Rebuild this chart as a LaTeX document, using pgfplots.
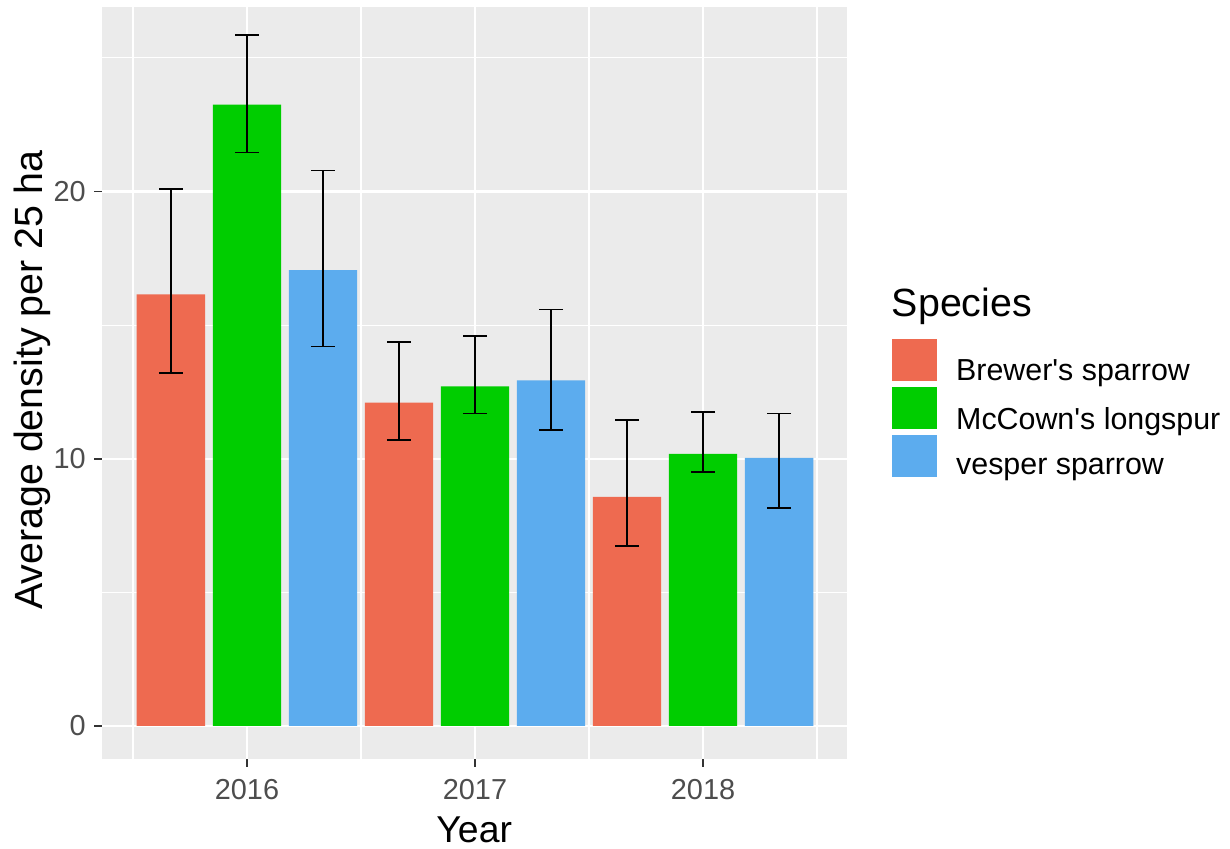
\documentclass[border=0pt]{standalone}
\usepackage{pgfplots}
\pgfplotsset{compat=1.18}
\usepackage{pgfplotstable}
\usepackage{fontspec}
\setmainfont{Liberation Sans}[Ligatures=TeXOff]
\definecolor{panelbg}{HTML}{EBEBEB}
\definecolor{cbrew}{HTML}{EE6A50}
\definecolor{cmcc}{HTML}{00CD00}
\definecolor{cves}{HTML}{5CACEE}
\definecolor{tickc}{HTML}{333333}
\definecolor{labc}{HTML}{4D4D4D}

\pgfdeclareplotmark{capbar}{%
  \pgfsetlinewidth{1.8bp}%
  \pgfsetstrokecolor{black}%
  \pgfpathmoveto{\pgfqpoint{0pt}{-12bp}}%
  \pgfpathlineto{\pgfqpoint{0pt}{12bp}}%
  \pgfusepathqstroke}

\pgfplotstableread{
x y ep em
2015.66667 16.15 3.94 2.93
2016.66667 12.10 2.27 1.41
2017.66667 8.57 2.89 1.85
}\brewer
\pgfplotstableread{
x y ep em
2016 23.25 2.59 1.79
2017 12.71 1.87 1.02
2018 10.18 1.58 0.69
}\mccown
\pgfplotstableread{
x y ep em
2016.33333 17.06 3.72 2.86
2017.33333 12.93 2.65 1.87
2018.33333 10.03 1.66 1.86
}\vesper

\begin{document}
\begin{tikzpicture}
\useasboundingbox (0,0) rectangle (1230bp,849bp);
\begin{axis}[
  at={(101.7bp,89.7bp)}, anchor=south west,
  scale only axis, width=745bp, height=752bp,
  xmin=2015.363, xmax=2018.630,
  ymin=-1.246, ymax=26.89,
  axis background/.style={fill=panelbg},
  axis x line*=bottom, axis y line*=left,
  axis line style={draw=none},
  xtick={2016,2017,2018}, xticklabels={2016,2017,2018},
  ytick={0,10,20}, yticklabels={0,10,20},
  minor xtick={2015.5,2016.5,2017.5,2018.5},
  minor ytick={5,15,25},
  grid=both,
  major grid style={white, line width=2.3bp},
  minor grid style={white, line width=1.15bp},
  tick align=outside,
  major tick length=7.5bp, minor tick length=0pt,
  major tick style={tickc, line width=1.6bp},
  minor tick style={draw=none},
  tick label style={font=\fontsize{29}{34}\selectfont, text=labc},
  xticklabel style={anchor=base, yshift=-33bp},
  yticklabel style={anchor=east, xshift=-5bp},
  every axis x label/.style={at={(axis description cs:0.5,-0.110)}, anchor=base},
  every axis y label/.style={at={(axis description cs:-0.0788,0.504)}, rotate=90, anchor=base},
  label style={text=black},
  xlabel style={font=\fontsize{37.5}{44}\selectfont},
  ylabel style={font=\fontsize{39.5}{46}\selectfont},
  xlabel={Year},
  ylabel={Average density per 25 ha},
  legend style={at={(axis description cs:1.0604,0.5589)}, anchor=north west,
    draw=none, fill=none, inner sep=0pt, outer sep=0pt,
    row sep=4.7bp, column sep=19.5bp,
    font=\fontsize{30.5}{36}\selectfont,
    nodes={inner sep=0pt, text=black}},
  legend cell align=left,
  legend image code/.code={\fill[#1] (0bp,-10bp) rectangle (45bp,32bp);},
  error bars/y dir=both, error bars/y explicit,
  error bars/error bar style={black, line width=1.7bp},
  error bars/error mark=capbar,
  error bars/error mark options={black},
]
\addplot[ybar, bar width=0.3, bar shift=0pt, fill=cbrew, draw=none]
  table[x=x, y=y, y error plus=ep, y error minus=em]{\brewer};
\addlegendentry{Brewer's sparrow}
\addplot[ybar, bar width=0.3, bar shift=0pt, fill=cmcc, draw=none]
  table[x=x, y=y, y error plus=ep, y error minus=em]{\mccown};
\addlegendentry{McCown's longspur}
\addplot[ybar, bar width=0.3, bar shift=0pt, fill=cves, draw=none]
  table[x=x, y=y, y error plus=ep, y error minus=em]{\vesper};
\addlegendentry{vesper sparrow}
\coordinate (legtitle) at (axis description cs:1.0604,0.5589);
\end{axis}
\node[anchor=base west, inner sep=0pt, font=\fontsize{39.5}{46}\selectfont] at ([yshift=22.3bp]legtitle) {Species};
\end{tikzpicture}
\end{document}
